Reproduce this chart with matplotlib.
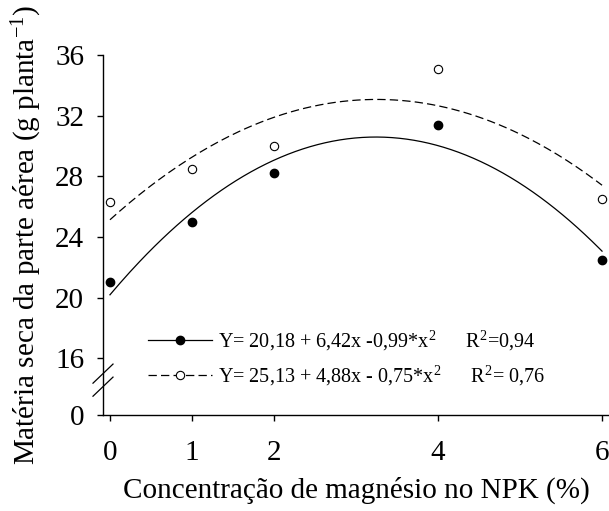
import numpy as np
import matplotlib
matplotlib.use("Agg")
import matplotlib.pyplot as plt

plt.rcParams['font.family'] = ['Liberation Serif', 'DejaVu Serif']
plt.rcParams['mathtext.fontset'] = 'custom'
plt.rcParams['mathtext.rm'] = 'Liberation Serif'
plt.rcParams['mathtext.it'] = 'Liberation Serif:italic'
plt.rcParams['lines.scale_dashes'] = False

# data
npk = [0, 1, 2, 4, 6]
mg_solid = [21.0, 25.0, 28.2, 31.4, 22.5]
mg_open = [26.3, 28.5, 30.0, 35.1, 26.5]
coef_solid = [20.18, 6.42, -0.99]
coef_open = [25.13, 4.88, -0.75]
label_solid = "Y= 20,18 + 6,42x -0,99*x$^{2}$      R$^{2}$=0,94"
label_open = "Y= 25,13 + 4,88x - 0,75*x$^{2}$      R$^{2}$= 0,76"
y_ticks = [16, 20, 24, 28, 32, 36]

# broken axis: the real 0 is drawn at this fake position
zero_pos = 12.25

fig = plt.figure(figsize=(6.09, 5.11), dpi=100)
ax = fig.add_axes([103 / 609, 96 / 511, 506 / 609, 360 / 511])

xs = np.linspace(0, 6, 200)
fit_solid = coef_solid[0] + coef_solid[1] * xs + coef_solid[2] * xs ** 2
fit_open = coef_open[0] + coef_open[1] * xs + coef_open[2] * xs ** 2
ax.plot(xs, fit_solid, color='black', lw=0.9)
ax.plot(xs, fit_open, color='black', lw=0.9, dashes=(6, 3))

ax.plot(npk, mg_solid, 'o', color='black', ms=6, ls='none')
ax.plot(npk, mg_open, 'o', mfc='white', mec='black', mew=0.8, ms=6, ls='none')

# legend handles
h1, = ax.plot([], [], color='black', lw=0.9, marker='o', ms=6)
h2, = ax.plot([], [], color='black', lw=0.9, dashes=(6, 3), marker='o', mfc='white', mec='black', mew=0.8, ms=6)
ax.legend([h1, h2], [label_solid, label_open], loc='center left', bbox_to_anchor=(0.089, 0.158),
          frameon=False, fontsize=14.5, handlelength=3.2, handletextpad=0.25, labelspacing=0.55,
          borderpad=0, borderaxespad=0)

ax.set_xlim(-0.085, 6.085)
ax.set_ylim(zero_pos, 36)
ax.set_xticks(npk)
ax.set_xticklabels([str(v) for v in npk])
ax.set_yticks([zero_pos] + y_ticks)
ax.set_yticklabels(['0'] + [str(v) for v in y_ticks])

ax.spines['top'].set_visible(False)
ax.spines['right'].set_visible(False)
for sp in ['left', 'bottom']:
    ax.spines[sp].set_linewidth(1.0)
ax.tick_params(axis='both', labelsize=21, width=1.0, direction='out')
ax.tick_params(axis='x', length=4, pad=14)
ax.tick_params(axis='y', length=4.5, pad=9)

# break marks on the y axis
for yc in [14.98, 14.12]:
    ax.plot([-0.122 - 0.085, 0.122 - 0.085], [yc - 0.63, yc + 0.63], color='black', lw=0.9, clip_on=False)

ax.set_xlabel('Concentração de magnésio no NPK (%)', fontsize=21, labelpad=8)
ax.set_ylabel('Matéria seca da parte aérea (g planta$^{-1}$)', fontsize=21, labelpad=8)

fig.savefig('out.png', dpi=100)
